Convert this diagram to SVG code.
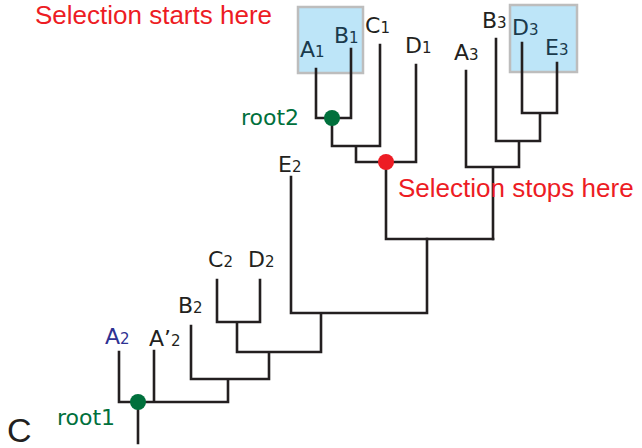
<svg xmlns="http://www.w3.org/2000/svg" width="642" height="448" viewBox="0 0 642 448">
<style>
.e{stroke:#231f20;stroke-width:2.6;fill:none;stroke-linecap:square}
.l{font-family:"DejaVu Sans",Verdana,sans-serif;font-size:22px;fill:#231f20}
.s{font-size:15px}
.red{font-family:"Liberation Sans",Arial,sans-serif;font-size:26px;fill:#ed1c24}
.grn{font-family:"DejaVu Sans",Verdana,sans-serif;font-size:22px;fill:#00703c}
.box{fill:#bde5f8;stroke:#bdbdbd;stroke-width:2.5}
</style>
<rect width="642" height="448" fill="#fff"/>
<g id="sel1"><rect class="box" x="298" y="7" width="65" height="66"/></g>
<g id="sel3"><rect class="box" x="510" y="5" width="67" height="67"/></g>
<g id="connectors">
<path class="e" d="M316 69V118H351V49M332 118V146H380V45M356 146V162H416V65M386 162V239H493"/>
<path class="e" d="M522 43V113H557V63M540 113V141H496V39M519 141V167H466V71M493 167V239"/>
<path class="e" d="M427 239V313H291V177M321 313V352H237V322M217 280V322H260V280M269 352V379H191V326M228 379V402H119V352M154 351V402M138 402V443"/>
</g>
<g id="A1"><text class="l" x="300" y="57" style="fill:#1a3a4c">A<tspan class="s">1</tspan></text></g>
<g id="B1"><text class="l" x="334" y="43" style="fill:#1a3a4c">B<tspan class="s">1</tspan></text></g>
<g id="C1"><text class="l" x="365" y="33">C<tspan class="s">1</tspan></text></g>
<g id="D1"><text class="l" x="405" y="53">D<tspan class="s">1</tspan></text></g>
<g id="A3"><text class="l" x="454" y="60">A<tspan class="s">3</tspan></text></g>
<g id="B3"><text class="l" x="482" y="28">B<tspan class="s">3</tspan></text></g>
<g id="D3"><text class="l" x="512" y="35" style="fill:#1a3a4c">D<tspan class="s">3</tspan></text></g>
<g id="E3"><text class="l" x="545" y="55" style="fill:#1a3a4c">E<tspan class="s">3</tspan></text></g>
<g id="E2"><text class="l" x="278" y="172">E<tspan class="s">2</tspan></text></g>
<g id="C2"><text class="l" x="208" y="267">C<tspan class="s">2</tspan></text></g>
<g id="D2"><text class="l" x="248" y="267">D<tspan class="s">2</tspan></text></g>
<g id="B2"><text class="l" x="178" y="313">B<tspan class="s">2</tspan></text></g>
<g id="A2"><text class="l" x="105" y="344" style="fill:#2e3192">A<tspan class="s">2</tspan></text></g>
<g id="Ap2"><text class="l" x="149" y="346">A’<tspan class="s">2</tspan></text></g>
<g id="root2"><circle cx="332" cy="118" r="8" fill="#00703c"/><text class="grn" x="241" y="125">root2</text></g>
<g id="stop"><circle cx="386" cy="162" r="8" fill="#ed1c24"/></g>
<g id="root1"><circle cx="138" cy="402" r="8" fill="#00703c"/><text class="grn" x="57" y="425">root1</text></g>
<text class="red" x="35" y="24">Selection starts here</text>
<text class="red" x="398" y="197">Selection stops here</text>
<text x="7" y="442" style="font-family:'Liberation Sans',Arial,sans-serif;font-size:34px;fill:#231f20">C</text>
</svg>
